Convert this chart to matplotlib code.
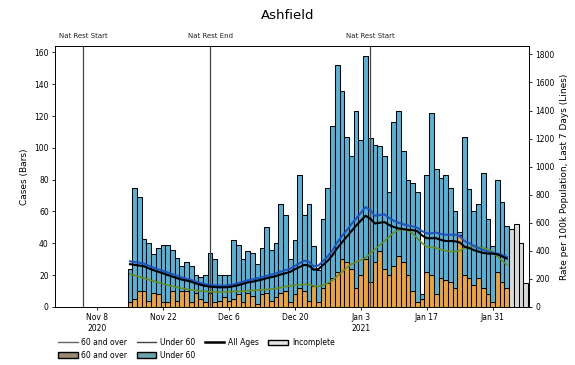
import matplotlib
matplotlib.use('Agg')
import matplotlib.pyplot as plt
import pandas as pd
from matplotlib.lines import Line2D
from matplotlib.patches import Patch

# daily cases, 15 Nov 2020 .. 3 Feb 2021
days = pd.date_range('2020-11-15', '2021-02-03')
over60 = [3, 5, 10, 10, 4, 9, 8, 3, 3, 10,
          4, 10, 10, 3, 9, 5, 3, 9, 3, 4,
          6, 4, 5, 8, 3, 9, 7, 2, 8, 9,
          4, 6, 9, 10, 3, 8, 12, 10, 4, 13,
          3, 12, 15, 18, 22, 30, 28, 24, 12, 20,
          30, 16, 28, 35, 24, 20, 26, 32, 28, 20,
          10, 3, 5, 22, 20, 8, 18, 17, 16, 12,
          45, 20, 18, 14, 18, 12, 8, 3, 22, 16,
          12]
under60 = [21, 70, 59, 33, 36, 24, 29, 36, 36, 26,
           27, 16, 18, 23, 11, 14, 17, 25, 27, 16,
           14, 16, 37, 31, 27, 26, 27, 25, 29, 41,
           32, 34, 56, 48, 27, 34, 71, 48, 61, 25,
           20, 43, 60, 96, 130, 106, 79, 71, 111, 85,
           128, 90, 74, 66, 71, 52, 90, 91, 70, 60,
           68, 69, 3, 61, 102, 79, 63, 66, 59, 48,
           2, 87, 56, 46, 47, 72, 47, 35, 58, 50,
           39]
incomplete_days = pd.date_range('2021-02-04', '2021-02-07')
incomplete = [49, 52, 40, 15]

# rate per 100k, last 7 days
rate_all = [305, 300, 295, 290, 275, 262, 250, 240, 228, 216,
            205, 195, 188, 180, 168, 158, 150, 145, 142, 140,
            140, 142, 148, 155, 165, 175, 180, 188, 195, 205,
            212, 220, 232, 240, 250, 268, 285, 300, 295, 265,
            270, 300, 330, 370, 420, 460, 500, 540, 580, 615,
            650, 630, 595, 600, 605, 585, 570, 560, 555, 550,
            548, 540, 510, 490, 490, 490, 478, 470, 470, 468,
            460, 430, 420, 405, 395, 385, 380, 380, 375, 360,
            345]
rate_under60 = [325, 320, 315, 308, 293, 280, 268, 258, 246, 234,
                222, 210, 200, 192, 180, 170, 162, 157, 154, 152,
                152, 155, 162, 170, 180, 190, 196, 205, 212, 222,
                230, 240, 252, 262, 272, 292, 312, 330, 322, 290,
                295, 328, 362, 405, 460, 505, 545, 590, 630, 670,
                712, 690, 650, 655, 660, 635, 615, 600, 590, 580,
                575, 565, 540, 525, 525, 530, 520, 515, 515, 515,
                505, 470, 455, 435, 420, 405, 395, 385, 380, 370,
                358]
rate_over60 = [235, 225, 215, 205, 195, 185, 175, 165, 155, 148,
               140, 133, 128, 122, 118, 114, 111, 110, 108, 106,
               106, 108, 110, 112, 112, 115, 118, 120, 122, 125,
               128, 132, 138, 145, 150, 155, 158, 162, 160, 150,
               145, 155, 170, 190, 220, 250, 280, 305, 320, 335,
               350, 380, 410, 440, 470, 500, 530, 548, 550, 545,
               525, 490, 455, 430, 425, 420, 410, 400, 395, 395,
               400, 420, 430, 430, 425, 420, 410, 395, 360, 330,
               300]

events = [('2020-11-05', 'Nat Rest Start'),
          ('2020-12-02', 'Nat Rest End'),
          ('2021-01-05', 'Nat Rest Start')]
tick_dates = ['2020-11-08', '2020-11-22', '2020-12-06', '2020-12-20',
              '2021-01-03', '2021-01-17', '2021-01-31']
tick_labels = ['Nov 8\n2020', 'Nov 22', 'Dec 6', 'Dec 20',
               'Jan 3\n2021', 'Jan 17', 'Jan 31']

c_old = '#e9a43c'
c_young = '#55b2d6'
c_line_old = '#6b8e23'
c_line_young = '#1f55c0'

fig = plt.figure(figsize=(5.75, 3.65), dpi=100)
ax = fig.add_axes([0.0957, 0.159, 0.8243, 0.715])
ax2 = ax.twinx()

ax.bar(days, over60, width=1, color=c_old, edgecolor='black', linewidth=0.75)
ax.bar(days, under60, bottom=over60, width=1, color=c_young,
       edgecolor='black', linewidth=0.75)
ax.bar(incomplete_days, incomplete, width=1, color='#d9d9d9',
       edgecolor='black', linewidth=0.75)

for d, name in events:
    x = pd.Timestamp(d)
    ax.axvline(x, color='#444444', lw=0.9, zorder=5)
    ax.text(x, 1.025, name, transform=ax.get_xaxis_transform(),
            ha='center', va='bottom', fontsize=5, color='#222222')

ax2.plot(days, rate_over60, color=c_line_old, lw=1.2)
ax2.plot(days, rate_under60, color=c_line_young, lw=1.5)
ax2.plot(days, rate_all, color='black', lw=1.5)

ax.set_xlim(pd.Timestamp('2020-10-30 02:00'), pd.Timestamp('2021-02-07 17:00'))
ax.set_ylim(0, 164)
ax.set_yticks(range(0, 161, 20))
ax2.set_ylim(0, 1860)
ax2.set_yticks(range(0, 1801, 200))
ax.set_xticks(pd.to_datetime(tick_dates))
ax.set_xticklabels(tick_labels)
for a in (ax, ax2):
    a.tick_params(labelsize=5.5, length=2.5, width=0.6, pad=2)
    for s in a.spines.values():
        s.set_linewidth(0.6)

ax.set_ylabel('Cases (Bars)', fontsize=6.5)
ax2.set_ylabel('Rate per 100k Population, Last 7 Days (Lines)', fontsize=6.5)
fig.suptitle('Ashfield', fontsize=9.5, y=0.975)

handles = [Line2D([], [], color='#666666', lw=1.0),
           Patch(facecolor='#9c8a70', edgecolor='black', lw=1.0),
           Line2D([], [], color='#444444', lw=1.0),
           Patch(facecolor='#6aa3aa', edgecolor='black', lw=1.0),
           Line2D([], [], color='black', lw=1.8),
           Patch(facecolor='#e6e6e6', edgecolor='black', lw=1.0)]
labels = ['60 and over', '60 and over', 'Under 60', 'Under 60',
          'All Ages', 'Incomplete']
fig.legend(handles, labels, loc='upper left', bbox_to_anchor=(0.095, 0.082),
           ncol=4, frameon=False, fontsize=5.5, handlelength=2.6,
           columnspacing=1.2, handletextpad=0.5, labelspacing=0.45,
           borderaxespad=0)

fig.savefig('out.png', dpi=100)
